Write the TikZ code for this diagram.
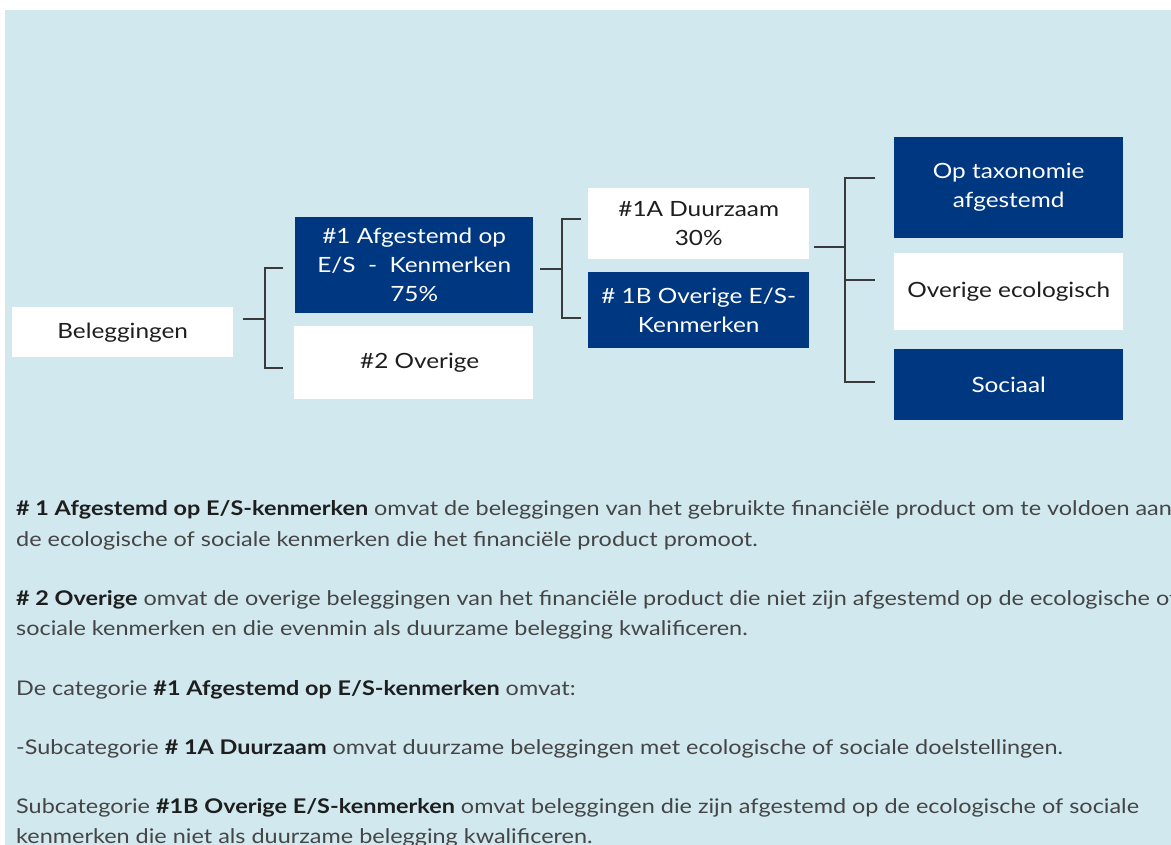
\documentclass[tikz,border=0pt]{standalone}
\usepackage{fontspec}
\setmainfont{Lato}[FakeStretch=1.16]
\definecolor{bgblue}{HTML}{D0E8EE}
\definecolor{navy}{HTML}{003781}
\definecolor{txt}{HTML}{454545}
\definecolor{txtb}{HTML}{1E1E1E}
\definecolor{linec}{HTML}{3A3A3A}
\tikzset{
  boxbase/.style={rectangle, anchor=north west, inner sep=0pt, align=center,
    font=\fontsize{21}{29}\selectfont},
  darkbox/.style={boxbase, fill=navy, text=white},
  lightbox/.style={boxbase, fill=white, text=txtb},
  conn/.style={draw=linec, line width=1.3pt},
  para/.style={anchor=base west, inner sep=0pt, text=txt, font=\fontsize{20.2}{30}\selectfont}
}
\newcommand{\bt}[1]{{\color{txtb}\bfseries #1}}
\begin{document}
\begin{tikzpicture}[x=1pt,y=-1pt]
\useasboundingbox (0,0) rectangle (1171,845);
\clip (0,0) rectangle (1171,845);
\fill[white] (0,0) rectangle (1171,845);
\fill[bgblue] (5,10) rectangle (1171,845);

% boxes
\node[lightbox, minimum width=221pt, minimum height=50pt] (bel) at (12,307) {Beleggingen};
\node[darkbox, minimum width=238pt, minimum height=96pt] (a1) at (295,217) {\raisebox{1pt}{\#1 Afgestemd op}\\\raisebox{1pt}{E/S \ - \ Kenmerken}\\\raisebox{1pt}{75\%}};
\node[lightbox, minimum width=239pt, minimum height=73pt] (a2) at (294,326) {\hspace*{12pt}\raisebox{-2pt}{\#2 Overige}};
\node[lightbox, minimum width=221pt, minimum height=71pt] (a1a) at (588,188) {\raisebox{-5pt}{\#1A Duurzaam}\\\raisebox{-5pt}{30\%}};
\node[darkbox, minimum width=221pt, minimum height=76pt] (a1b) at (588,272) {\# 1B Overige E/S-\\Kenmerken};
\node[darkbox, minimum width=229pt, minimum height=101pt] (tax) at (894,137) {Op taxonomie\\afgestemd};
\node[lightbox, minimum width=229pt, minimum height=77pt] (eco) at (894,253) {Overige ecologisch};
\node[darkbox, minimum width=229pt, minimum height=71pt] (soc) at (894,349) {Sociaal};

% bracket junction coordinates
\coordinate (b1s) at (243,319);
\coordinate (b1m) at (265,319);
\coordinate (b1t) at (283,268);
\coordinate (b1b) at (283,368);
\coordinate (b2s) at (540,269);
\coordinate (b2m) at (562,269);
\coordinate (b2t) at (581,219);
\coordinate (b2b) at (581,318);
\coordinate (b3s) at (814,247);
\coordinate (b3m) at (845,247);
\coordinate (b3t) at (875,178);
\coordinate (b3c) at (875,280);
\coordinate (b3b) at (875,382);

\draw[conn] (b1s) -- (b1m);
\draw[conn] (b1t) -| (b1m) |- (b1b);
\draw[conn] (b2s) -- (b2m);
\draw[conn] (b2t) -| (b2m) |- (b2b);
\draw[conn] (b3s) -- (b3m);
\draw[conn] (b3t) -| (b3m) |- (b3b);
\draw[conn] (b3m |- b3c) -- (b3c);

% paragraphs
\node[para] (p1) at (16,515) {\bt{\# 1 Afgestemd op E/S-kenmerken} omvat de beleggingen van het gebruikte financiële product om te voldoen aan};
\node[para] (p2) at (16,546) {de ecologische of sociale kenmerken die het financiële product promoot.};
\node[para] (p3) at (16,605) {\bt{\# 2 Overige} omvat de overige beleggingen van het financiële product die niet zijn afgestemd op de ecologische of};
\node[para] (p4) at (16,635) {sociale kenmerken en die evenmin als duurzame belegging kwalificeren.};
\node[para] (p5) at (16,695) {De categorie \bt{\#1 Afgestemd op E/S-kenmerken} omvat:};
\node[para] (p6) at (16,754) {-Subcategorie \bt{\# 1A Duurzaam} omvat duurzame beleggingen met ecologische of sociale doelstellingen.};
\node[para] (p7) at (16,813) {Subcategorie \bt{\#1B Overige E/S-kenmerken} omvat beleggingen die zijn afgestemd op de ecologische of sociale};
\node[para] (p8) at (16,843) {kenmerken die niet als duurzame belegging kwalificeren.};
\end{tikzpicture}
\end{document}
